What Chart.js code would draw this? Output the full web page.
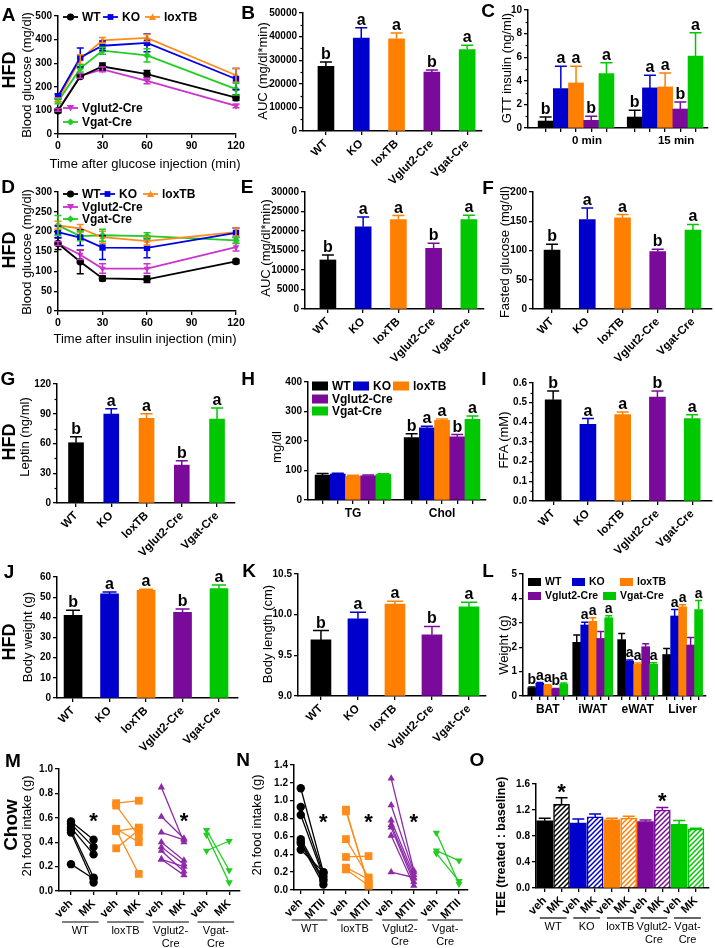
<!DOCTYPE html>
<html>
<head>
<meta charset="utf-8">
<script src="https://cdn.jsdelivr.net/npm/chart.js@4.4.1/dist/chart.umd.min.js"></script>
<style>
  body { margin: 0; background: #fff; }
  #fig { position: relative; width: 715px; height: 948px; overflow: hidden; font-family: "Liberation Sans", Arial, sans-serif; }
  #fig canvas { position: absolute; }
  .t { position: absolute; white-space: nowrap; line-height: 1; color: #000; transform: translate(-50%, -50%); }
  .v { transform: translate(-50%, -50%) rotate(-90deg); }
</style>
</head>
<body>
<div id="fig"></div>
<script>
var FONT = '"Liberation Sans", Arial, sans-serif';

// groups, significance letters
var groups = ['WT', 'KO', 'loxTB', 'Vglut2-Cre', 'Vgat-Cre'];
var sig = ['b', 'a', 'a', 'b', 'a'];

// A: glucose tolerance test (mg/dl)
var gttTime = [0, 15, 30, 60, 120];
var gttWT = [98, 244, 286, 254, 154],     gttWTErr = [8, 8, 15, 15, 12];
var gttKO = [159, 324, 374, 386, 233],    gttKOErr = [10, 40, 20, 38, 45];
var gttLox = [145, 316, 397, 407, 249],   gttLoxErr = [8, 20, 12, 15, 30];
var gttVglut = [102, 246, 274, 225, 119], gttVglutErr = [6, 10, 10, 12, 8];
var gttVgat = [138, 278, 353, 333, 190],  gttVgatErr = [10, 15, 15, 28, 25];

// B: GTT AUC
var gttAuc = [27400, 39400, 39100, 25000, 34500], gttAucErr = [1800, 4400, 2400, 850, 1850];

// C: GTT insulin (ng/ml)
var insTimes = ['0 min', '15 min'];
var ins0 = [0.59, 3.34, 3.82, 0.65, 4.62],  ins0Err = [0.34, 1.9, 1.42, 0.34, 0.9];
var ins15 = [0.93, 3.4, 3.48, 1.61, 6.09], ins15Err = [0.57, 1.08, 1.19, 0.6, 1.98];

// D: insulin tolerance test (mg/dl)
var ittTime = [0, 15, 30, 60, 120];
var ittWT = [170, 124, 82, 80, 125],      ittWTErr = [15, 30, 6, 8, 5];
var ittKO = [199, 185, 160, 159, 197],    ittKOErr = [15, 20, 30, 25, 12];
var ittLox = [216, 208, 186, 176, 199],   ittLoxErr = [10, 10, 15, 10, 10];
var ittVglut = [170, 142, 107, 107, 161], ittVglutErr = [5, 12, 12, 12, 10];
var ittVgat = [216, 189, 191, 189, 178],  ittVgatErr = [25, 12, 15, 8, 8];

// E: ITT AUC, F: fasted glucose
var ittAuc = [12575, 21070, 22940, 15550, 22940], ittAucErr = [1275, 2550, 1020, 1280, 1100];
var fastGlu = [100.8, 153, 155.8, 98, 134.8],     fastGluErr = [9.7, 19.8, 5.7, 4, 9.7];

// G: leptin, H: lipids, I: FFA
var leptin = [60.8, 89.6, 85.5, 38.2, 84.5], leptinErr = [6.1, 5.4, 4.4, 4.4, 11.2];
var lipidNames = ['TG', 'Chol'];
var tg = [84.5, 87.9, 81, 82, 86.7],         tgErr = [5, 3, 3, 3, 2];
var chol = [211.8, 244.5, 270.4, 214, 273.8], cholErr = [13, 5.5, 4.5, 8, 11];
var ffa = [0.515, 0.39, 0.439, 0.529, 0.419], ffaErr = [0.044, 0.029, 0.0135, 0.03, 0.02];

// J: body weight, K: body length
var bodyW = [41, 51.6, 53.4, 42.5, 54.2],         bodyWErr = [2.5, 1, 0.5, 1.6, 1.8];
var bodyL = [9.69, 9.95, 10.13, 9.753, 10.095],   bodyLErr = [0.115, 0.08, 0.035, 0.103, 0.057];

// L: tissue weights (g)
var tissues = ['BAT', 'iWAT', 'eWAT', 'Liver'];
var batW = [0.34, 0.52, 0.44, 0.29, 0.49],   batErr = [0.03, 0.03, 0.02, 0.02, 0.04];
var iwatW = [2.2, 2.91, 3.06, 2.36, 3.21],   iwatErr = [0.3, 0.11, 0.15, 0.28, 0.08];
var ewatW = [2.31, 1.43, 1.3, 2.02, 1.3],    ewatErr = [0.25, 0.05, 0.05, 0.12, 0.06];
var liverW = [1.7, 3.28, 3.65, 2.09, 3.54],  liverErr = [0.25, 0.26, 0.09, 0.31, 0.37];
var tissueSig = [['b', 'a', 'a', 'b', 'a'], ['', 'a', 'a', '', 'a'], ['', 'a', 'a', '', 'a'], ['', 'a', 'a', '', 'a']];

// M: chow food intake veh -> MK (g), pairs per mouse
var mkTicks = ['veh', 'MK', 'veh', 'MK', 'veh', 'MK', 'veh', 'MK'];
var mkWT = [[0.57, 0.42], [0.55, 0.36], [0.52, 0.30], [0.50, 0.11], [0.48, 0.07], [0.22, 0.10]];
var mkLox = [[0.72, 0.74], [0.70, 0.45], [0.51, 0.40], [0.49, 0.52], [0.50, 0.14], [0.35, 0.50]];
var mkVglut = [[0.85, 0.40], [0.61, 0.43], [0.48, 0.42], [0.40, 0.25], [0.36, 0.22], [0.33, 0.16], [0.26, 0.13], [0.26, 0.20]];
var mkVgat = [[0.50, 0.17], [0.46, 0.07], [0.33, 0.41]];

// N: food intake veh -> MTII (g)
var mtTicks = ['veh', 'MTII', 'veh', 'MTII', 'veh', 'MTII', 'veh', 'MTII'];
var mtWT = [[1.14, 0.20], [0.93, 0.18], [0.84, 0.15], [0.57, 0.12], [0.54, 0.10], [0.52, 0.06], [0.45, 0.20]];
var mtLox = [[0.90, 0.05], [0.88, 0.06], [0.57, 0.14], [0.37, 0.38], [0.25, 0.12], [0.23, 0.05]];
var mtVglut = [[1.25, 0.22], [0.95, 0.20], [0.78, 0.17], [0.73, 0.13], [0.70, 0.09], [0.61, 0.05], [0.20, 0.14]];
var mtVgat = [[0.64, 0.07], [0.44, 0.33], [0.41, 0.10]];

// O: TEE treated:baseline, veh/MK per group
var teeTicks = ['veh', 'MK', 'veh', 'MK', 'veh', 'MK', 'veh', 'MK', 'veh', 'MK'];
var tee = [1.033, 1.288, 0.997, 1.094, 1.048, 1.074, 1.022, 1.2, 0.98, 0.905];
var teeErr = [0.04, 0.1, 0.066, 0.046, 0.026, 0.03, 0.026, 0.037, 0.058, 0.015];

// colours and markers
var barCol = ['#000000', '#0000cc', '#ff8000', '#7a0a9a', '#00c800'];
var lineCol = ['#000000', '#0000e6', '#ff8c1a', '#cc33cc', '#22cc22'];
var pairCol = ['#000000', '#ff8c1a', '#8c2aa8', '#22cc22'];
var lineShape = [['circle', 0], ['rect', 0], ['triangle', 0], ['triangle', 180], ['rectRot', 0]];
var pairShape = [['circle', 0], ['rect', 0], ['triangle', 0], ['triangle', 180]];

var fig = document.getElementById('fig');

function marker(ctx, style, rot, x, y, r) {
    ctx.beginPath();
    if (style === 'circle') ctx.arc(x, y, r, 0, Math.PI * 2);
    else if (style === 'rect') ctx.rect(x - r * 0.8, y - r * 0.8, r * 1.6, r * 1.6);
    else if (style === 'rectRot') { ctx.moveTo(x, y - r); ctx.lineTo(x + r, y); ctx.lineTo(x, y + r); ctx.lineTo(x - r, y); }
    else {
        var s = rot ? -1 : 1;
        ctx.moveTo(x, y - s * r); ctx.lineTo(x + r, y + s * r * 0.8); ctx.lineTo(x - r, y + s * r * 0.8);
    }
    ctx.closePath();
    ctx.fill();
}

// error bars, letters, stars, group underlines, legends
var annot = {
    id: 'annot',
    afterDatasetsDraw: function(chart, args, o) {
        var ctx = chart.ctx, xs = chart.scales.x, ys = chart.scales.y, a = chart.chartArea;
        ctx.save();
        if (o.minor) {
            ctx.strokeStyle = '#000'; ctx.lineWidth = 1.2;
            for (var v = ys.min + o.minor; v < ys.max; v += 2 * o.minor) {
                var p = Math.round(ys.getPixelForValue(v)) + 0.5;
                ctx.beginPath(); ctx.moveTo(a.left - 2.5, p); ctx.lineTo(a.left, p); ctx.stroke();
            }
        }
        chart.data.datasets.forEach(function(ds, i) {
            var err = o.err ? o.err[i] : null;
            chart.getDatasetMeta(i).data.forEach(function(el, j) {
                var v = ds.data[j].y, e = err ? err[j] : 0;
                var col = Array.isArray(ds.borderColor) ? ds.borderColor[j] : ds.borderColor;
                var top = ys.getPixelForValue(v + e);
                if (e) {
                    var bot = o.both ? ys.getPixelForValue(v - e) : el.y;
                    ctx.strokeStyle = col; ctx.lineWidth = 1.5;
                    ctx.beginPath();
                    ctx.moveTo(el.x, bot); ctx.lineTo(el.x, top);
                    ctx.moveTo(el.x - o.cap, top); ctx.lineTo(el.x + o.cap, top);
                    if (o.both) { ctx.moveTo(el.x - o.cap, bot); ctx.lineTo(el.x + o.cap, bot); }
                    ctx.stroke();
                }
                if (o.letters && o.letters[j]) {
                    ctx.fillStyle = '#000'; ctx.font = 'bold ' + (o.lsize || 16) + 'px ' + FONT;
                    ctx.textAlign = 'center'; ctx.textBaseline = 'alphabetic';
                    ctx.fillText(o.letters[j], el.x, top - 3);
                }
            });
        });
        (o.stars || []).forEach(function(s) {
            ctx.fillStyle = '#000'; ctx.font = 'bold 22px ' + FONT;
            ctx.textAlign = 'center'; ctx.textBaseline = 'middle';
            ctx.fillText('*', xs.getPixelForValue(s[0]), ys.getPixelForValue(s[1]) + 4);
        });
        (o.groups || []).forEach(function(g) {
            var x1 = xs.getPixelForValue(g[0]) - o.gpad[0], x2 = xs.getPixelForValue(g[1]) + o.gpad[1];
            var y = a.bottom + o.gy;
            ctx.strokeStyle = '#000'; ctx.lineWidth = 1.2;
            ctx.beginPath(); ctx.moveTo(x1, y); ctx.lineTo(x2, y); ctx.stroke();
            ctx.fillStyle = '#000'; ctx.font = '11px ' + FONT;
            ctx.textAlign = 'center'; ctx.textBaseline = 'middle';
            g[2].forEach(function(s, k) { ctx.fillText(s, (x1 + x2) / 2, y + 9 + 13 * k); });
        });
        if (o.legend) {
            var C = o.C;
            o.legend.forEach(function(it) {
                var k = it[0], x = it[1] - C[0], y = it[2] - C[1];
                if (o.kind === 'box') {
                    ctx.fillStyle = barCol[k];
                    ctx.fillRect(x, y - o.bh / 2, o.bw, o.bh);
                } else {
                    ctx.strokeStyle = lineCol[k]; ctx.fillStyle = lineCol[k]; ctx.lineWidth = 1.8;
                    ctx.beginPath(); ctx.moveTo(x, y); ctx.lineTo(x + o.bw, y); ctx.stroke();
                    marker(ctx, lineShape[k][0], lineShape[k][1], x + o.bw / 2, y, 3.6);
                }
                ctx.fillStyle = '#000'; ctx.font = 'bold ' + o.fs + 'px ' + FONT;
                ctx.textAlign = 'left'; ctx.textBaseline = 'middle';
                ctx.fillText(groups[k], x + o.bw + 4, y + 0.5);
            });
        }
        ctx.restore();
    }
};
Chart.register(annot);

function xAxis(min, max, pos, labels, rot, size, shift) {
    return {
        type: 'linear', min: min, max: max, bounds: 'data', offset: false,
        grid: { drawOnChartArea: false, tickLength: 4, color: '#000', lineWidth: 1.3, offset: false },
        border: { color: '#000', width: 1.5 },
        afterBuildTicks: function(s) { s.ticks = pos.map(function(v) { return { value: v }; }); },
        ticks: {
            color: '#000', font: { family: FONT, size: size || 11.5, weight: 'bold' }, padding: 2,
            autoSkip: false, minRotation: rot, maxRotation: rot, labelOffset: shift || 0,
            callback: function(v, i) { return labels[i]; }
        }
    };
}

function yAxis(min, max, step, dec) {
    return {
        min: min, max: max,
        grid: { drawOnChartArea: false, tickLength: 4, color: '#000', lineWidth: 1.3 },
        border: { color: '#000', width: 1.5 },
        ticks: {
            stepSize: step, color: '#000', font: { family: FONT, size: 10, weight: 'bold' }, padding: 2,
            callback: function(v) { return dec == null ? v : v.toFixed(dec); }
        }
    };
}

// R = plot area [left, top, right, bottom] in page pixels, xh = room under the x axis
function panel(R, xh, type, datasets, xs, ys, an) {
    var C = [R[0] - 50, R[1] - 14, R[2] + 18, R[3] + xh];
    var w = C[2] - C[0], h = C[3] - C[1];
    var cv = document.createElement('canvas');
    cv.width = w; cv.height = h;
    cv.style.left = C[0] + 'px'; cv.style.top = C[1] + 'px';
    cv.style.width = w + 'px'; cv.style.height = h + 'px';
    fig.appendChild(cv);
    xs.afterFit = function(s) { s.height = xh; };
    ys.afterFit = function(s) { s.width = 50; };
    an = an || {};
    an.C = C;
    return new Chart(cv, {
        type: type,
        data: { datasets: datasets },
        options: {
            responsive: false, animation: false, devicePixelRatio: 1,
            layout: { padding: { left: 0, top: 14, right: 18, bottom: 0 } },
            scales: { x: xs, y: ys },
            plugins: { legend: { display: false }, tooltip: { enabled: false }, annot: an }
        }
    });
}

function lineSet(vals, times, k) {
    return {
        data: vals.map(function(v, i) { return { x: times[i], y: v }; }),
        borderColor: lineCol[k], backgroundColor: lineCol[k], borderWidth: 1.8, tension: 0,
        pointStyle: lineShape[k][0], pointRotation: lineShape[k][1],
        pointRadius: lineShape[k][0] === 'rect' ? 4.5 : 3.8, pointBorderWidth: 0, clip: false
    };
}

function barSet(vals, pos, cols, bw) {
    return {
        data: vals.map(function(v, i) { return { x: pos[i], y: v }; }),
        backgroundColor: cols, borderColor: cols, borderWidth: 0, barThickness: bw, clip: false
    };
}

function pairSets(list) {
    var out = [];
    list.forEach(function(pairs, g) {
        pairs.forEach(function(p) {
            out.push({
                data: [{ x: 2 * g, y: p[0] }, { x: 2 * g + 1, y: p[1] }],
                borderColor: pairCol[g], backgroundColor: pairCol[g], borderWidth: 1.3,
                pointStyle: pairShape[g][0], pointRotation: pairShape[g][1],
                pointRadius: pairShape[g][0] === 'rect' ? 5.5 : 4.2, pointBorderWidth: 0, clip: false
            });
        });
    });
    return out;
}

var idx5 = [0, 1, 2, 3, 4];
var twoGroupPos = idx5.concat(idx5.map(function(i) { return i + 5.86; }));
var twoGroupCol = barCol.concat(barCol);

// A
panel([58, 16, 236, 134], 20, 'line',
    [lineSet(gttWT, gttTime, 0), lineSet(gttKO, gttTime, 1), lineSet(gttLox, gttTime, 2), lineSet(gttVglut, gttTime, 3), lineSet(gttVgat, gttTime, 4)],
    xAxis(0, 120, [0, 30, 60, 90, 120], [0, 30, 60, 90, 120], 0, 10.5),
    yAxis(0, 500, 100),
    { err: [gttWTErr, gttKOErr, gttLoxErr, gttVglutErr, gttVgatErr], both: true, cap: 3.5,
      legend: [[0, 63, 17], [1, 103, 17], [2, 145, 17], [3, 63, 108], [4, 63, 122]], kind: 'line', bw: 15, fs: 12 });

// B
panel([303, 13, 482, 131], 58, 'bar', [barSet(gttAuc, idx5, barCol, 16)],
    xAxis(-0.65, 4.42, idx5, groups, 45), yAxis(0, 50000, 10000),
    { err: [gttAucErr], cap: 6, letters: sig, minor: 5000 });

// C
panel([528, 10, 708, 128], 22, 'bar', [barSet(ins0.concat(ins15), twoGroupPos, twoGroupCol, 15)],
    xAxis(-1.16, 10.68, twoGroupPos, ['', '', insTimes[0], '', '', '', '', insTimes[1], '', ''], 0, 11.5, 11), yAxis(0, 10, 2),
    { err: [ins0Err.concat(ins15Err)], cap: 6, letters: sig.concat(sig), minor: 1 });

// D
panel([58, 192, 236, 311], 20, 'line',
    [lineSet(ittWT, ittTime, 0), lineSet(ittKO, ittTime, 1), lineSet(ittLox, ittTime, 2), lineSet(ittVglut, ittTime, 3), lineSet(ittVgat, ittTime, 4)],
    xAxis(0, 120, [0, 30, 60, 90, 120], [0, 30, 60, 90, 120], 0, 10.5),
    yAxis(0, 300, 50),
    { err: [ittWTErr, ittKOErr, ittLoxErr, ittVglutErr, ittVgatErr], both: true, cap: 3.5,
      legend: [[0, 63, 194], [1, 100, 194], [2, 143, 194], [3, 63, 207], [4, 63, 219]], kind: 'line', bw: 15, fs: 12 });

// E
panel([305, 192, 484, 309], 58, 'bar', [barSet(ittAuc, idx5, barCol, 16)],
    xAxis(-0.65, 4.43, idx5, groups, 45), yAxis(0, 30000, 5000),
    { err: [ittAucErr], cap: 6, letters: sig });

// F
panel([533, 192, 712, 309], 58, 'bar', [barSet(fastGlu, idx5, barCol, 16)],
    xAxis(-0.54, 4.54, idx5, groups, 45), yAxis(0, 200, 50),
    { err: [fastGluErr], cap: 6, letters: sig });

// G
panel([57, 384, 235, 503], 58, 'bar', [barSet(leptin, idx5, barCol, 15)],
    xAxis(-0.54, 4.51, idx5, groups, 45), yAxis(0, 120, 30),
    { err: [leptinErr], cap: 6, letters: sig, minor: 15 });

// H
panel([308, 382, 486, 500], 22, 'bar', [barSet(tg.concat(chol), twoGroupPos, twoGroupCol, 15)],
    xAxis(-0.96, 10.75, twoGroupPos, ['', '', lipidNames[0], '', '', '', '', lipidNames[1], '', ''], 0, 12), yAxis(0, 400, 100),
    { err: [tgErr.concat(cholErr)], cap: 6, letters: ['', '', '', '', ''].concat(sig),
      legend: [[0, 312, 386], [1, 353, 386], [2, 393, 386], [3, 312, 399], [4, 312, 411]], kind: 'box', bw: 16, bh: 9, fs: 12 });

// I
panel([533, 383, 712, 501], 58, 'bar', [barSet(ffa, idx5, barCol, 16)],
    xAxis(-0.58, 4.57, idx5, groups, 45), yAxis(0, 0.6, 0.1, 1),
    { err: [ffaErr], cap: 6, letters: sig, minor: 0.05 });

// J
panel([57, 577, 238, 698], 58, 'bar', [barSet(bodyW, idx5, barCol, 18)],
    xAxis(-0.44, 4.52, idx5, groups, 45), yAxis(0, 60, 10),
    { err: [bodyWErr], cap: 7, letters: sig });

// K (bars start at the 9.0 baseline)
var lenSet = barSet(bodyL, idx5, barCol, 20);
lenSet.base = 9;
panel([298, 574, 486, 696], 58, 'bar', [lenSet],
    xAxis(-0.62, 4.46, idx5, groups, 45), yAxis(9, 10.5, 0.5, 1),
    { err: [bodyLErr], cap: 8, letters: sig });

// L
var tissuePos = [], tissueVals = [], tissueErrs = [], tissueCols = [], tissueLetters = [], tissueTickLabels = [];
[batW, iwatW, ewatW, liverW].forEach(function(vals, g) {
    var errs = [batErr, iwatErr, ewatErr, liverErr][g];
    vals.forEach(function(v, b) {
        tissuePos.push(g * 5.625 + b);
        tissueVals.push(v);
        tissueErrs.push(errs[b]);
        tissueCols.push(barCol[b]);
        tissueLetters.push(tissueSig[g][b]);
        tissueTickLabels.push(b === 2 ? tissues[g] : '');
    });
});
panel([523, 574, 706, 696], 22, 'bar', [barSet(tissueVals, tissuePos, tissueCols, 8)],
    xAxis(-1.1, 21.8, tissuePos, tissueTickLabels, 0, 12), yAxis(0, 5, 1),
    { err: [tissueErrs], cap: 3.5, letters: tissueLetters, lsize: 14,
      legend: [[0, 528, 582], [1, 572, 582], [2, 620, 582], [3, 528, 596], [4, 603, 596]], kind: 'box', bw: 13, bh: 8, fs: 10.5 });

// M
var col8 = [0, 1, 2, 3, 4, 5, 6, 7];
panel([59, 769, 240, 891], 57, 'line', pairSets([mkWT, mkLox, mkVglut, mkVgat]),
    xAxis(-0.53, 7.48, col8, mkTicks, 45), yAxis(0, 1, 0.2, 1),
    { stars: [[1, 0.6], [5, 0.6]], gy: 31, gpad: [9, 5],
      groups: [[0, 1, ['WT']], [2, 3, ['loxTB']], [4, 5, ['Vglut2-', 'Cre']], [6, 7, ['Vgat-', 'Cre']]] });

// N
panel([294, 765, 468, 890], 58, 'line', pairSets([mtWT, mtLox, mtVglut, mtVgat]),
    xAxis(-0.3, 7.4, col8, mtTicks, 45), yAxis(0, 1.4, 0.2, 1),
    { stars: [[1, 0.8], [3, 0.8], [5, 0.8]], gy: 30, gpad: [9, 4],
      groups: [[0, 1, ['WT']], [2, 3, ['loxTB']], [4, 5, ['Vglut2-', 'Cre']], [6, 7, ['Vgat-', 'Cre']]] });

// O
function hatch(col) {
    var c = document.createElement('canvas');
    c.width = 5; c.height = 5;
    var x = c.getContext('2d');
    x.fillStyle = '#fff'; x.fillRect(0, 0, 5, 5);
    x.strokeStyle = col; x.lineWidth = 1.5;
    x.beginPath();
    x.moveTo(-1, 6); x.lineTo(6, -1);
    x.moveTo(-3, 3); x.lineTo(3, -3);
    x.moveTo(2, 8); x.lineTo(8, 2);
    x.stroke();
    return x.createPattern(c, 'repeat');
}
var teePos = [], teeFill = [], teeLine = [], teeBorder = [];
tee.forEach(function(v, i) {
    var g = Math.floor(i / 2);
    teePos.push(i);
    teeFill.push(i % 2 ? hatch(barCol[g]) : barCol[g]);
    teeLine.push(barCol[g]);
    teeBorder.push(i % 2 ? 1.5 : 0);
});
var teeSet = barSet(tee, teePos, teeFill, 16);
teeSet.borderColor = teeLine;
teeSet.borderWidth = teeBorder;
panel([536, 784, 709, 888], 60, 'bar', [teeSet],
    xAxis(-0.52, 9.78, teePos, teeTicks, 45), yAxis(0, 1.6, 0.4, 1),
    { err: [teeErr], cap: 6, stars: [[1, 1.52], [7, 1.39]], gy: 30, gpad: [5, 5],
      groups: [[0, 1, ['WT']], [2, 3, ['KO']], [4, 5, ['loxTB']], [6, 7, ['Vglut2-', 'Cre']], [8, 9, ['Vgat-', 'Cre']]] });

// free text
function txt(s, x, y, size, bold, vert) {
    var d = document.createElement('div');
    d.className = 't' + (vert ? ' v' : '');
    d.textContent = s;
    d.style.left = x + 'px';
    d.style.top = y + 'px';
    d.style.fontSize = size + 'px';
    d.style.fontWeight = bold ? 'bold' : 'normal';
    fig.appendChild(d);
}

[['A', 8.5, 13.5], ['B', 248, 11.5], ['C', 488, 10], ['D', 8, 186], ['E', 247, 186], ['F', 488, 187],
 ['G', 8, 378], ['H', 248, 378], ['I', 484, 378], ['J', 9, 571], ['K', 249, 570], ['L', 488, 570],
 ['M', 13, 760], ['N', 243, 759], ['O', 477, 759]].forEach(function(p) { txt(p[0], p[1], p[2], 19, true); });

[['HFD', 9, 70], ['HFD', 9, 250], ['HFD', 9, 442], ['HFD', 9, 642]].forEach(function(p) { txt(p[0], p[1], p[2], 18, true, true); });
txt('Chow', 10, 825, 19, true, true);

[['Blood glucose (mg/dl)', 26, 75], ['AUC (mg/dl*min)', 262, 71], ['GTT insulin (ng/ml)', 506, 68],
 ['Blood glucose (mg/dl)', 26, 252], ['AUC (mg/dl*min)', 265, 248], ['Fasted glucose (mg/dl)', 504, 252],
 ['Leptin (ng/ml)', 24, 437], ['mg/dl', 276, 447], ['FFA (mM)', 503, 440],
 ['Body weight (g)', 27, 637], ['Body length (cm)', 267, 634], ['Weight (g)', 503, 645],
 ['2h food intake (g)', 26, 826], ['2h food intake (g)', 256, 825]].forEach(function(p) { txt(p[0], p[1], p[2], 13, false, true); });
txt('TEE (treated : baseline)', 501, 846, 12.5, true, true);

txt('Time after glucose injection (min)', 145, 163, 13, false);
txt('Time after insulin injection (min)', 145, 338, 13, false);
</script>
</body>
</html>
